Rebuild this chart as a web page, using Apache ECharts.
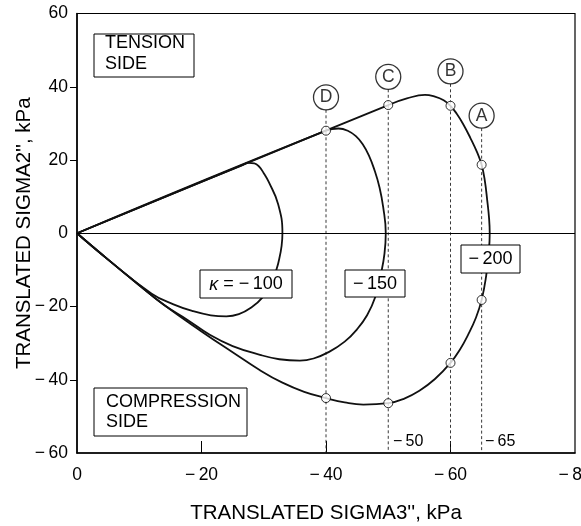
<!DOCTYPE html>
<html><head><meta charset="utf-8">
<script src="https://cdn.jsdelivr.net/npm/echarts@6/dist/echarts.min.js"></script>
<style>html,body{margin:0;padding:0;background:#fff}#c{width:581px;height:526px}</style>
</head><body><div id="c"></div>
<script>
// Yield surfaces (sigma3'', sigma2'') in kPa
const kappa100 = [[0,0],[-26.5,18.55],[-27.6,19.2],[-28.5,19.1],[-29.3,18.1],[-30,16.4],[-30.8,14],[-32.3,8],[-33,0],[-32.3,-8.4],[-31.2,-13.5],[-29.8,-17.5],[-28,-20.3],[-26,-22.1],[-24,-22.7],[-21.5,-22.4],[-18.5,-21.2],[-15.5,-19.4],[-12,-16.5],[-5,-7.2],[0,0]];
const kappa150 = [[0,0],[-40,28],[-42,28.6],[-43.5,28],[-44.8,26.5],[-45.9,24.3],[-46.9,21.2],[-47.8,17.2],[-48.6,12.5],[-49.2,7],[-49.6,0],[-49.4,-5.5],[-48.9,-10.5],[-47.9,-17.5],[-46.6,-22.4],[-45,-26.2],[-43,-29.6],[-40.5,-32.4],[-38,-34.2],[-35.8,-34.8],[-32.5,-34.4],[-29.4,-33.2],[-25,-30.8],[-21.4,-27.8],[-17.7,-23.6],[-14,-19.6],[-10,-14.2],[-5,-7.2],[0,0]];
const kappa200 = [[0,0],[-50,35],[-53,36.8],[-55.9,37.8],[-57.5,37.3],[-58.9,36.3],[-60,34.8],[-61,32.6],[-62,29.9],[-63.2,26],[-64.3,22],[-65,18.7],[-65.5,14.5],[-65.9,9],[-66.2,4],[-66.3,0],[-66.1,-6],[-65.7,-12],[-65,-18.2],[-64.1,-23],[-62.8,-27.8],[-61.5,-31.8],[-60,-35.4],[-57.5,-39.8],[-55,-43],[-52.5,-45.2],[-50,-46.4],[-46,-46.8],[-43,-46.2],[-40,-45],[-36.5,-43.3],[-33,-40.8],[-29.4,-37.4],[-25,-32.5],[-20,-26.8],[-14,-19.6],[-10,-14.2],[-5,-7.2],[0,0]];
// Stress path points (open circles)
const stressPoints = [[-40,28],[-50,35],[-60,34.8],[-65,18.7],[-40,-45],[-50,-46.4],[-60,-35.4],[-65,-18.2]];
// Stress path guide lines and their letter labels
const pathNames = ['D','C','B','A'];
const pathX = [-40,-50,-60,-65];
const pathLabelY = [37.1,42.7,44.2,32.1];
const pathLineTop = [33.7,39.3,40.8,28.7];
// Axis tick marks
const xTickMarks = [-20,-40,-60];
const yTickMarks = [-40,-20,20,40];
// Annotation texts
const kappaLabels = ['κ = −\u2009100','−\u2009150','−\u2009200'];
const guideValueLabels = ['−\u200950','−\u200965'];
const sideLabels = ['TENSION\nSIDE','COMPRESSION\nSIDE'];

const FONT = '"Liberation Sans", Arial, Helvetica, sans-serif';
const fmt = v => String(v).replace('-', '\u2212\u2009');

const series = [];
pathX.forEach((x, i) => {
  series.push({
    type: 'line', data: [[x, pathLineTop[i]], [x, -60]], symbol: 'none', silent: true, z: 1,
    lineStyle: { color: '#222', width: 0.9, type: [3, 2.5] }
  });
});
series.push({
  type: 'line', data: [], symbol: 'none', silent: true,
  markLine: { silent: true, symbol: 'none', label: { show: false },
    lineStyle: { color: '#000', width: 1, type: 'solid' }, data: [{ yAxis: 0 }] }
});
[kappa100, kappa150, kappa200].forEach(d => {
  series.push({
    type: 'line', data: d, symbol: 'none', smooth: 0.45, z: 3, silent: true,
    lineStyle: { color: '#111', width: 1.8 }
  });
});
series.push({
  type: 'scatter', data: stressPoints, symbol: 'circle', symbolSize: 9, z: 4, silent: true,
  itemStyle: { color: '#fff', borderColor: '#000', borderWidth: 1 }
});
series.push({
  type: 'scatter', z: 5, silent: true, symbol: 'circle', symbolSize: 25,
  data: pathX.map((x, i) => ({ value: [x, pathLabelY[i]], name: pathNames[i] })),
  itemStyle: { color: '#fff', borderColor: '#000', borderWidth: 1.3 },
  label: { show: true, position: 'inside', formatter: p => p.name, color: '#000', fontSize: 17.5, fontFamily: FONT }
});

function box(x, y, w, h) {
  return { type: 'rect', z: 100, shape: { x: x, y: y, width: w, height: h },
    style: { fill: '#fff', stroke: '#000', lineWidth: 1 } };
}
function txt(x, y, t, opts) {
  return Object.assign({ type: 'text', z: 101, x: x, y: y,
    style: Object.assign({ text: t, fill: '#000', font: '18px ' + FONT }, opts || {}) });
}

const graphic = [
  box(94, 34, 100, 43),
  txt(105, 33, sideLabels[0], { lineHeight: 20.7, verticalAlign: 'top', align: 'left' }),
  box(94, 388, 153, 48),
  txt(106, 392.5, sideLabels[1], { lineHeight: 20, verticalAlign: 'top', align: 'left' }),
  box(200, 270, 92, 28),
  { type: 'text', z: 101, x: 246, y: 284.5, style: {
      text: '{k|κ} = −\u2009100', fill: '#000', font: '18px ' + FONT, align: 'center', verticalAlign: 'middle',
      rich: { k: { fontStyle: 'italic', fontSize: 18, fontFamily: FONT } } } },
  box(345, 270, 60, 27),
  txt(375, 284, kappaLabels[1], { align: 'center', verticalAlign: 'middle' }),
  box(461, 245, 59, 28),
  txt(490.5, 259.5, kappaLabels[2], { align: 'center', verticalAlign: 'middle' }),
  txt(393, 442, guideValueLabels[0], { align: 'left', verticalAlign: 'middle', font: '16px ' + FONT }),
  txt(485, 442, guideValueLabels[1], { align: 'left', verticalAlign: 'middle', font: '16px ' + FONT })
];

const chart = echarts.init(document.getElementById('c'), null, { renderer: 'canvas' });
chart.setOption({
  animation: false,
  backgroundColor: '#fff',
  grid: { left: 77, right: 6, top: 13.5, bottom: 73, show: true, borderColor: '#000', borderWidth: 1.2,
    containLabel: false, outerBoundsMode: 'none' },
  xAxis: {
    type: 'value', min: -80, max: 0, interval: 20, inverse: true,
    name: "TRANSLATED SIGMA3'', kPa", nameLocation: 'middle', nameGap: 49.5, nameMoveOverlap: false,
    nameTextStyle: { fontFamily: FONT, fontSize: 20.5, color: '#000' },
    axisLine: { show: true, onZero: false, lineStyle: { color: '#000', width: 1.5 } },
    axisTick: { show: true, inside: true, length: 12, customValues: xTickMarks, lineStyle: { color: '#000', width: 1 } },
    axisLabel: { margin: 13, fontFamily: FONT, fontSize: 17.5, color: '#000', formatter: fmt },
    splitLine: { show: false }
  },
  yAxis: {
    type: 'value', min: -60, max: 60, interval: 20,
    name: "TRANSLATED SIGMA2'', kPa", nameLocation: 'middle', nameGap: 42, nameMoveOverlap: false,
    nameTextStyle: { fontFamily: FONT, fontSize: 20.5, color: '#000' },
    axisLine: { show: true, onZero: false, lineStyle: { color: '#000', width: 1.5 } },
    axisTick: { show: true, inside: false, length: 7, customValues: yTickMarks, lineStyle: { color: '#000', width: 1 } },
    axisLabel: { margin: 9, fontFamily: FONT, fontSize: 17.5, color: '#000', formatter: fmt },
    splitLine: { show: false }
  },
  series: series,
  graphic: graphic
});
</script></body></html>
